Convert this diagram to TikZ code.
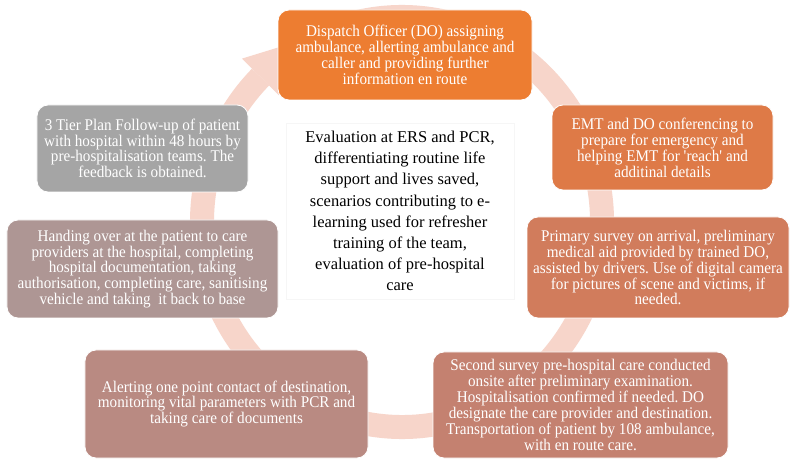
\documentclass[tikz,border=0pt]{standalone}
\usepackage{fontspec}
\setmainfont{Liberation Serif}
\newfontfamily\boxfont{Liberation Serif}[FakeStretch=0.93]
\usetikzlibrary{calc}
\definecolor{cA}{RGB}{237,125,49}
\definecolor{cB}{RGB}{222,122,71}
\definecolor{cC}{RGB}{209,124,92}
\definecolor{cD}{RGB}{196,129,112}
\definecolor{cE}{RGB}{185,138,130}
\definecolor{cF}{RGB}{174,150,148}
\definecolor{cG}{RGB}{165,165,165}
\definecolor{ringc}{RGB}{247,213,202}
\definecolor{faint}{RGB}{246,246,246}
\frenchspacing
\begin{document}
\frenchspacing
\begin{tikzpicture}[x=1bp,y=-1bp,
  stepbox/.style={rectangle, rounded corners=11bp, draw=white, line width=0.8bp,
    text=white, align=center, inner sep=0pt,
    font=\boxfont\fontsize{16.3bp}{14.6bp}\selectfont},
  centerbox/.style={rectangle, draw=faint, line width=0.8bp, fill=white,
    text=black, align=center, inner sep=0pt,
    font=\fontsize{16.5bp}{21.2bp}\selectfont},
  ringline/.style={draw=ringc, line width=24bp},
  ringhead/.style={fill=ringc}]
\useasboundingbox (0,0) rectangle (792,462);
\fill[white] (0,0) rectangle (792,462);
% ring
\coordinate (rc) at (402,222);
\draw[ringline] ($(rc)+(-120:200 and 205)$) arc[start angle=-120, end angle=225, x radius=200, y radius=205];
\coordinate (hb1) at (242,58.6);
\coordinate (hb2) at (279,95.4);
\coordinate (htip) at (296,42);
\fill[ringhead] (hb1) -- (htip) -- (hb2) -- cycle;
% centre text
\node[centerbox, minimum width=228bp, minimum height=176bp] (ctr) at (400,211)
 {Evaluation at ERS and PCR,\\differentiating routine life\\support and lives saved,\\scenarios contributing to e-\\learning used for refresher\\training of the team,\\evaluation of pre-hospital\\care};
% boxes
\node[stepbox, fill=cA, minimum width=254bp, minimum height=90bp] (b1) at (405,55)
 {Dispatch Officer (DO) assigning\\ambulance, allerting ambulance and\\caller and providing further\\information en route};
\node[stepbox, fill=cB, minimum width=221bp, minimum height=85bp] (b2) at (662.5,147.5)
 {EMT and DO conferencing to\\prepare for emergency and\\helping EMT for \textquotesingle reach\textquotesingle{} and\\additinal details};
\node[stepbox, fill=cC, minimum width=262bp, minimum height=101bp] (b3) at (658,267.5)
 {Primary survey on arrival, preliminary\\medical aid provided by trained DO,\\assisted by drivers. Use of digital camera\\for pictures of scene and victims, if\\needed.};
\node[stepbox, fill=cD, minimum width=295bp, minimum height=106bp] (b4) at (580.5,405)
 {Second survey pre-hospital care conducted\\onsite after preliminary examination.\\Hospitalisation confirmed if needed. DO\\designate the care provider and destination.\\Transportation of patient by 108 ambulance,\\with en route care.};
\node[stepbox, fill=cE, minimum width=283bp, minimum height=108bp] (b5) at (226.5,404)
 {Alerting one point contact of destination,\\monitoring vital parameters with PCR and\\taking care of documents};
\node[stepbox, fill=cF, minimum width=271bp, minimum height=98bp] (b6) at (142.5,269)
 {Handing over at the patient to care\\providers at the hospital, completing\\hospital documentation, taking\\authorisation, completing care, sanitising\\vehicle and taking~ it back to base};
\node[stepbox, fill=cG, minimum width=211bp, minimum height=87bp] (b7) at (142.5,148.5)
 {3 Tier Plan Follow-up of patient\\with hospital within 48 hours by\\pre-hospitalisation teams. The\\feedback is obtained.};
\end{tikzpicture}
\end{document}
